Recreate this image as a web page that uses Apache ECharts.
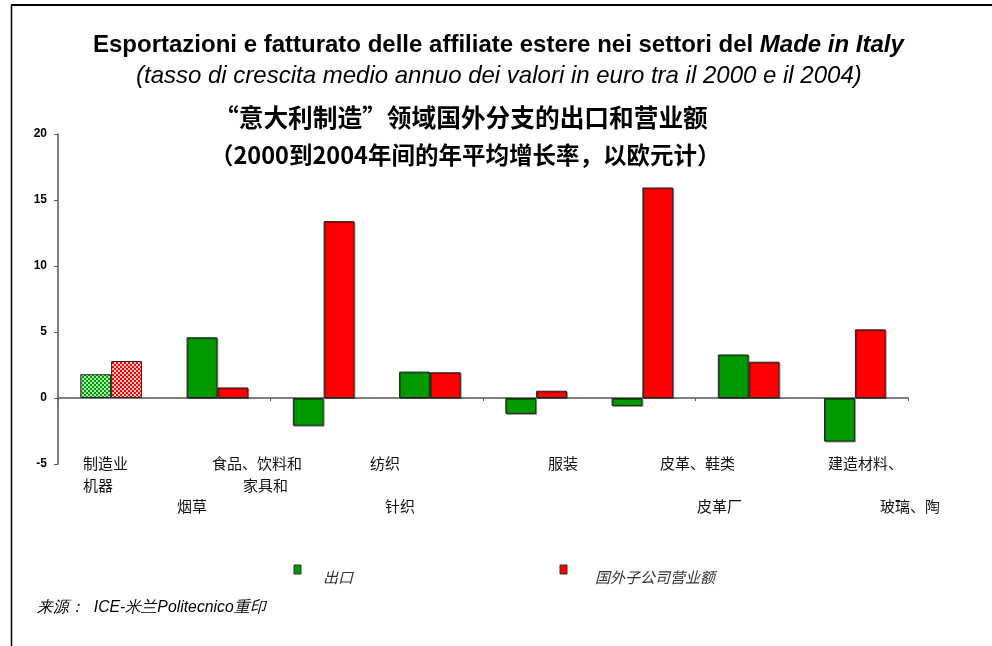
<!DOCTYPE html>
<html>
<head>
<meta charset="utf-8">
<script src="https://cdn.jsdelivr.net/npm/echarts@6/dist/echarts.min.js"></script>
<style>
  html, body { margin: 0; padding: 0; background: #fff; }
  #chart { width: 992px; height: 646px; }
</style>
</head>
<body>
<div id="chart"></div>
<script>
// sectors (8 groups on the x axis)
const categories = ['制造业', '机器', '食品、饮料和烟草', '家具和', '纺织针织', '服装', '皮革、鞋类皮革厂', '建造材料、玻璃、陶'];
const exportsGrowth = [1.8, 4.6, -2.1, 2.0, -1.2, -0.6, 3.3, -3.3];
const affiliateGrowth = [2.8, 0.8, 13.4, 1.95, 0.55, 15.95, 2.75, 5.2];
const seriesNames = ['出口', '国外子公司营业额'];
const seriesColors = ['#009900', '#ff0000'];
const yTicks = [-5, 0, 5, 10, 15, 20];

// loose label fragments under the axis, as they sit in the original
const labelTexts = ['制造业', '机器', '食品、饮料和', '家具和', '烟草', '纺织', '针织', '服装', '皮革、鞋类', '皮革厂', '建造材料、', '玻璃、陶'];
const labelPos = [[83, 465], [83, 487], [212, 465], [243, 487], [177, 508], [370, 465], [385, 508], [548, 465], [660, 465], [697, 508], [828, 465], [880, 508]];

const FONT = '"Liberation Sans", Arial, sans-serif';
const CJK = '"Noto Sans CJK SC", sans-serif';

// dotted fill for the first group (whole manufacturing)
function dotted(color, light) {
  const c = document.createElement('canvas');
  c.width = 4; c.height = 4;
  const ctx = c.getContext('2d');
  ctx.fillStyle = color;
  ctx.fillRect(0, 0, 4, 4);
  ctx.fillStyle = light;
  ctx.fillRect(0, 0, 2, 2);
  ctx.fillRect(2, 2, 2, 2);
  return { image: c, repeat: 'repeat' };
}

function barData(values, idx, light) {
  return values.map((v, i) => i === 0
    ? { value: v, itemStyle: { color: dotted(seriesColors[idx], light), shadowColor: 'rgba(0,0,0,0)', shadowOffsetX: 0, shadowOffsetY: 0 } }
    : v);
}

const chart = echarts.init(document.getElementById('chart'), null, { renderer: 'canvas' });

const graphics = [
  { type: 'line', shape: { x1: 11, y1: 5, x2: 992, y2: 5 }, style: { stroke: '#000', lineWidth: 2 } },
  { type: 'line', shape: { x1: 11.5, y1: 5, x2: 11.5, y2: 646 }, style: { stroke: '#000', lineWidth: 1.5 } },
  {
    type: 'text', left: 93, top: 33,
    style: {
      text: '{b|Esportazioni e fatturato delle affiliate estere nei settori del }{i|Made in Italy}',
      rich: {
        b: { fontFamily: FONT, fontWeight: 'bold', fontSize: 24, fill: '#000' },
        i: { fontFamily: FONT, fontWeight: 'bold', fontStyle: 'italic', fontSize: 24, fill: '#000' }
      }
    }
  },
  {
    type: 'text', left: 136, top: 64,
    style: { text: '(tasso di crescita medio annuo dei valori in euro tra il 2000 e il 2004)', fontFamily: FONT, fontStyle: 'italic', fontSize: 24, fill: '#000' }
  },
  {
    type: 'text', left: 214, top: 105,
    style: { text: '“意大利制造”领域国外分支的出口和营业额', fontFamily: CJK, fontWeight: 'bold', fontSize: 24.7, fill: '#000' }
  },
  {
    type: 'text', left: 210, top: 143,
    style: { text: '（2000到2004年间的年平均增长率，以欧元计）', fontFamily: CJK, fontWeight: 'bold', fontSize: 23.5, fill: '#000' }
  },
  {
    type: 'text', left: 37, top: 600,
    style: { text: '来源：  ICE-米兰Politecnico重印', fontFamily: FONT, fontStyle: 'italic', fontSize: 15.8, fill: '#000' }
  }
];

labelTexts.forEach((t, i) => {
  graphics.push({
    type: 'text', left: labelPos[i][0], top: labelPos[i][1] - 9,
    style: { text: t, fontFamily: CJK, fontSize: 15, fill: '#111' }
  });
});

// legend drawn by hand: marker sits above the text as in the original
const legendX = [[294, 323], [560, 595]];
seriesNames.forEach((n, i) => {
  graphics.push({
    type: 'rect', shape: { x: legendX[i][0], y: 565, width: 7, height: 9 },
    style: { fill: seriesColors[i], stroke: '#333', lineWidth: 1 }
  });
  graphics.push({
    type: 'text', left: legendX[i][1], top: 570,
    style: { text: n, fontFamily: CJK, fontStyle: 'italic', fontSize: 15, fill: '#333' }
  });
});

const option = {
  backgroundColor: '#fff',
  animation: false,
  grid: { left: 58, right: 84, top: 134, bottom: 182 },
  xAxis: {
    type: 'category',
    data: categories,
    axisLine: { onZero: true, lineStyle: { color: '#555', width: 1.5 } },
    axisTick: { show: true, length: 3, lineStyle: { color: '#555' } },
    axisLabel: { show: false }
  },
  yAxis: {
    type: 'value',
    min: yTicks[0],
    max: yTicks[yTicks.length - 1],
    interval: 5,
    axisLine: { show: true, lineStyle: { color: '#555', width: 1.5 } },
    axisTick: { show: true, length: 4, lineStyle: { color: '#555' } },
    axisLabel: { fontFamily: FONT, fontWeight: 'bold', fontSize: 12, color: '#000', margin: 11 },
    splitLine: { show: false }
  },
  series: [
    {
      name: seriesNames[0],
      type: 'bar',
      data: barData(exportsGrowth, 0, '#b0ecb0'),
      barGap: '0%',
      barCategoryGap: '42%',
      itemStyle: { color: seriesColors[0], borderColor: '#222', borderWidth: 1, shadowColor: 'rgba(0,0,0,0.35)', shadowOffsetX: 1, shadowOffsetY: 1 }
    },
    {
      name: seriesNames[1],
      type: 'bar',
      data: barData(affiliateGrowth, 1, '#ffc8c8'),
      barGap: '0%',
      barCategoryGap: '42%',
      itemStyle: { color: seriesColors[1], borderColor: '#222', borderWidth: 1, shadowColor: 'rgba(0,0,0,0.35)', shadowOffsetX: 1, shadowOffsetY: 1 }
    }
  ],
  graphic: graphics
};

chart.setOption(option);
</script>
</body>
</html>
